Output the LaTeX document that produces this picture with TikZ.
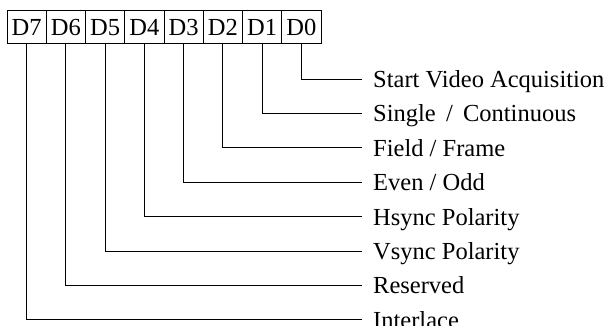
\documentclass[tikz,border=0pt]{standalone}
\usepackage{fontspec}
\setmainfont{Liberation Serif}
\begin{document}
\begin{tikzpicture}[x=1pt,y=-1pt,
  every node/.style={font=\fontsize{24.5}{28}\selectfont},
  cell/.style={draw, line width=0.9pt, minimum width=39.25pt, minimum height=33.5pt, inner sep=0pt, text height=17pt, text depth=0pt},
  lbl/.style={anchor=west, inner xsep=11pt, inner ysep=0pt, text height=22pt, text depth=5pt},
  wire/.style={line width=0.9pt}]
\useasboundingbox (0,0) rectangle (608,326);
\foreach \i in {0,...,7}{
  \pgfmathtruncatemacro{\k}{7-\i}
  \node[cell] (d\k) at ({7+39.25*(\i+0.5)},26.75) {D\k};
}
\foreach \k/\t in {0/{Start Video Acquisition},1/{Single \,/\, Continuous},2/{Field / Frame},3/{Even / Odd},4/{Hsync Polarity},5/{Vsync Polarity},6/{Reserved},7/{Interlace}}{
  \node[lbl] (l\k) at (362,{79+34.4*\k}) {\t};
  \draw[wire] (d\k.south) |- (l\k.west);
}
\end{tikzpicture}
\end{document}
